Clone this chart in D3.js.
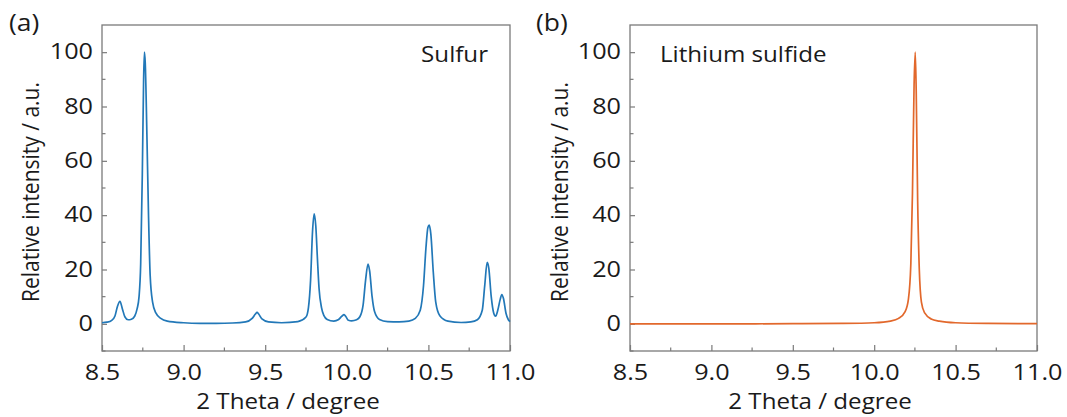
<!DOCTYPE html>
<html>
<head>
<meta charset="utf-8">
<script src="https://cdn.jsdelivr.net/npm/d3@7"></script>
<style>
  html, body { margin: 0; padding: 0; background: #fff; }
  svg { display: block; }
  text { font-family: "Open Sans", "Noto Sans", sans-serif; fill: #1a1a1a; }
</style>
</head>
<body>
<svg id="chart" width="1067" height="417"></svg>
<script>
// ---------- data ----------
const xTickValues = [8.5, 9.0, 9.5, 10.0, 10.5, 11.0];
const yTickValues = [0, 20, 40, 60, 80, 100];
const panelLetters = ["(a)", "(b)"];
const sampleNames = ["Sulfur", "Lithium sulfide"];
const xAxisTitle = "2 Theta / degree";
const yAxisTitle = "Relative intensity / a.u.";

const sulfurTheta = [8.50, 8.53, 8.56, 8.58, 8.595, 8.61, 8.625, 8.64, 8.66, 8.68, 8.70, 8.715, 8.727, 8.737, 8.747, 8.755, 8.76, 8.765, 8.775, 8.785, 8.795, 8.81, 8.83, 8.86, 8.90, 9.00, 9.10, 9.20, 9.30, 9.38, 9.42, 9.44, 9.45, 9.46, 9.48, 9.52, 9.60, 9.70, 9.75, 9.765, 9.778, 9.79, 9.80, 9.81, 9.82, 9.83, 9.845, 9.86, 9.88, 9.92, 9.95, 9.97, 9.983, 9.995, 10.01, 10.03, 10.06, 10.08, 10.10, 10.115, 10.13, 10.14, 10.155, 10.17, 10.20, 10.25, 10.32, 10.38, 10.42, 10.45, 10.47, 10.485, 10.497, 10.505, 10.515, 10.53, 10.545, 10.57, 10.62, 10.70, 10.76, 10.80, 10.83, 10.845, 10.86, 10.87, 10.885, 10.90, 10.912, 10.925, 10.94, 10.95, 10.96, 10.975, 10.99, 11.00];
const sulfurIntensity = [0.4, 0.6, 1.3, 3.0, 6.5, 8.3, 5.5, 2.6, 1.5, 1.7, 2.8, 5.5, 10, 22, 55, 90, 100, 96, 70, 40, 18, 8, 4, 2, 1.0, 0.4, 0.2, 0.2, 0.3, 0.7, 2.0, 3.6, 4.2, 3.6, 1.8, 0.7, 0.4, 0.8, 2.5, 6, 16, 34, 40.5, 36, 24, 13, 6, 3, 1.6, 1.0, 1.6, 2.8, 3.4, 2.6, 1.3, 1.1, 1.5, 2.6, 7, 16, 22, 19.5, 10, 4.5, 1.6, 0.8, 0.7, 1.0, 2.0, 5, 14, 28, 35.5, 36.3, 33, 19, 8, 3, 1.0, 0.5, 0.7, 1.5, 5, 14, 22.6, 20.5, 10, 4, 2.8, 5, 9, 10.8, 9.3, 4, 1.5, 0.8];

const li2sTheta = [8.50, 9.00, 9.50, 9.80, 10.00, 10.10, 10.15, 10.19, 10.21, 10.225, 10.235, 10.245, 10.252, 10.258, 10.267, 10.277, 10.29, 10.31, 10.35, 10.40, 10.50, 10.70, 11.00];
const li2sIntensity = [0.0, 0.0, 0.05, 0.15, 0.4, 1.0, 2.0, 4.5, 9, 22, 48, 88, 100, 86, 45, 20, 8, 4, 1.8, 1.0, 0.4, 0.15, 0.05];

const seriesColors = ["#2278b8", "#e2682c"];

// ---------- layout ----------
const svg = d3.select("#chart");
const panels = [
  { left: 102, right: 510, theta: sulfurTheta, inten: sulfurIntensity, color: seriesColors[0], name: sampleNames[0], nameX: 488, anchor: "end", letter: panelLetters[0], letterX: 9, ytitleX: 31, xtitleX: 288 },
  { left: 630, right: 1037, theta: li2sTheta, inten: li2sIntensity, color: seriesColors[1], name: sampleNames[1], nameX: 660, anchor: "start", letter: panelLetters[1], letterX: 536, ytitleX: 560, xtitleX: 820 }
];
const plotTop = 25, plotBottom = 351;
const axisColor = "#7a7a7a";
const tickStretch = 1.2, textStretch = 1.15, fs = 21;

function placeText(g, x, y, str, size, anchor, k) {
  return g.append("text")
    .attr("transform", `translate(${x},${y}) scale(${k},1)`)
    .attr("text-anchor", anchor).attr("font-size", size).text(str);
}

panels.forEach(p => {
  const x = d3.scaleLinear().domain([8.5, 11.0]).range([p.left, p.right]);
  const y = d3.scaleLinear().domain([-10, 110]).range([plotBottom, plotTop]);
  const g = svg.append("g");

  // frame
  g.append("rect").attr("x", p.left).attr("y", plotTop)
    .attr("width", p.right - p.left).attr("height", plotBottom - plotTop)
    .attr("fill", "none").attr("stroke", axisColor).attr("stroke-width", 1.3);

  // minor ticks x
  const xMinor = d3.range(8.75, 11.0, 0.5);
  g.selectAll(".xminor").data(xMinor).enter().append("line")
    .attr("x1", d => x(d)).attr("x2", d => x(d))
    .attr("y1", plotBottom).attr("y2", plotBottom - 3.5)
    .attr("stroke", axisColor).attr("stroke-width", 1.2);
  // major ticks x
  const xAxis = d3.axisBottom(x).tickValues(xTickValues).tickFormat(d3.format(".1f")).tickSizeInner(-6).tickSizeOuter(0).tickPadding(14);
  const xg = g.append("g").attr("transform", `translate(0,${plotBottom})`).call(xAxis);
  xg.select(".domain").remove();
  xg.selectAll("line").attr("stroke", axisColor).attr("stroke-width", 1.2);
  xg.selectAll("text").attr("font-size", fs).attr("font-family", "'Open Sans', sans-serif").attr("fill", "#1a1a1a")
    .attr("transform", `scale(${tickStretch},1)`);

  // minor ticks y
  const yMinor = [-10, 10, 30, 50, 70, 90];
  g.selectAll(".yminor").data(yMinor).enter().append("line")
    .attr("x1", p.left).attr("x2", p.left + 3.5)
    .attr("y1", d => y(d)).attr("y2", d => y(d))
    .attr("stroke", axisColor).attr("stroke-width", 1.2);
  const yAxis = d3.axisLeft(y).tickValues(yTickValues).tickFormat(d3.format("d")).tickSizeInner(-5).tickSizeOuter(0).tickPadding(9);
  const yg = g.append("g").attr("transform", `translate(${p.left},0)`).call(yAxis);
  yg.select(".domain").remove();
  yg.selectAll("line").attr("stroke", axisColor).attr("stroke-width", 1.2);
  yg.selectAll("text").attr("font-size", fs).attr("font-family", "'Open Sans', sans-serif").attr("fill", "#1a1a1a")
    .attr("x", -9 / tickStretch).attr("transform", `scale(${tickStretch},1)`);

  // line
  const data = p.theta.map((t, i) => [t, p.inten[i]]);
  const line = d3.line().x(d => x(d[0])).y(d => y(d[1])).curve(d3.curveMonotoneX);
  g.append("path").datum(data).attr("d", line)
    .attr("fill", "none").attr("stroke", p.color).attr("stroke-width", 1.7)
    .attr("stroke-linejoin", "round");

  // texts
  placeText(g, p.nameX, 62, p.name, fs, p.anchor, textStretch);
  placeText(g, p.letterX, 31, p.letter, 23, "start", textStretch);
  placeText(g, p.xtitleX, 409, xAxisTitle, fs, "middle", textStretch);
  g.append("text").attr("transform", `translate(${p.ytitleX + 8},${(plotTop + plotBottom) / 2 + 4}) rotate(-90) scale(1,${textStretch})`)
    .attr("text-anchor", "middle").attr("font-size", fs).text(yAxisTitle);
});
</script>
</body>
</html>
